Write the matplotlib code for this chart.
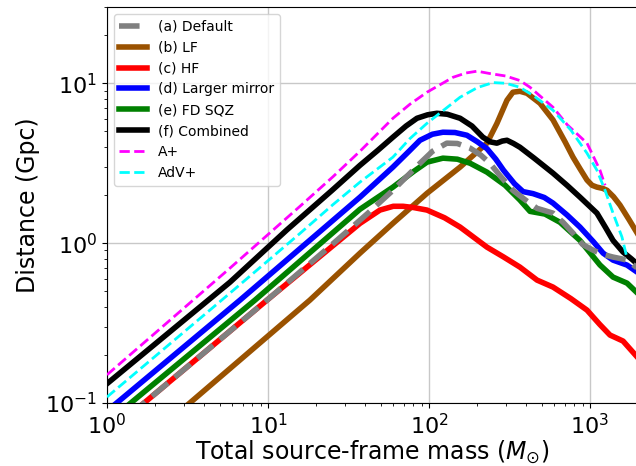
import numpy as np
import matplotlib
matplotlib.use('Agg')
import matplotlib.pyplot as plt

# values (total mass in Msun, distance in Gpc)
mass_default = [1, 9.86, 25, 41.2, 59.7, 87.9, 105, 129, 150, 180, 210, 239, 280, 332, 400, 469, 520,
                589, 680, 784, 900, 1044, 1200, 1390, 1550, 1698, 2000]
dist_default = [0.064, 0.44, 0.98, 1.52, 2.14, 3.16, 3.75, 4.22, 4.2, 3.93, 3.55, 3.16, 2.6, 2.14, 1.85, 1.65, 1.6,
                1.54, 1.35, 1.155, 0.98, 0.904, 0.85, 0.818, 0.80, 0.783, 0.69]

mass_lf = [1, 18.2, 37.3, 59.7, 97.2, 156, 229, 264, 305, 332, 367, 406, 489, 589, 700, 784, 870, 958,
           1030, 1104, 1200, 1276, 1400, 1535, 1750, 2000]
dist_lf = [0.036, 0.44, 0.866, 1.33, 2.05, 2.99, 4.22, 5.6, 7.83, 8.79, 8.91, 8.66, 7.5, 5.9, 4.3, 3.45, 2.9, 2.48,
           2.3, 2.24, 2.2, 2.14, 1.95, 1.73, 1.4, 1.12]

mass_hf = [1, 9.86, 37.3, 49.6, 60, 69.0, 80, 97.2, 125, 156, 229, 290, 367, 469, 589, 760, 958, 1150,
           1331, 1604, 2000]
dist_hf = [0.064, 0.44, 1.33, 1.61, 1.70, 1.70, 1.67, 1.61, 1.44, 1.26, 0.944, 0.82, 0.708, 0.587, 0.531, 0.45,
           0.381, 0.31, 0.266, 0.244, 0.19]

mass_mirror = [1, 6.70, 37.3, 59.7, 75, 87.9, 105, 122, 145, 172, 200, 229, 260, 290, 340, 384, 443, 520,
               589, 720, 866, 1050, 1205, 1390, 1698, 2000]
dist_mirror = [0.089, 0.44, 1.94, 2.99, 3.75, 4.40, 4.8, 4.94, 4.92, 4.73, 4.3, 3.9, 3.35, 2.86, 2.35, 2.1, 2.04,
               1.93, 1.78, 1.5, 1.26, 1.02, 0.866, 0.783, 0.729, 0.65]

mass_sqz = [1, 8.30, 37.3, 59.7, 80, 97.2, 122, 150, 180, 229, 297, 367, 424, 525, 651, 866, 1153, 1390,
            1698, 2000]
dist_sqz = [0.0753, 0.44, 1.63, 2.24, 2.8, 3.21, 3.40, 3.35, 3.16, 2.78, 2.30, 1.86, 1.58, 1.52, 1.35, 1.04, 0.73,
            0.613, 0.562, 0.48]

mass_comb = [1, 5.81, 13.1, 25, 37.3, 48, 59.7, 72, 84.2, 98, 112, 130, 156, 185, 216, 240, 264, 285, 305,
             335, 367, 450, 589, 720, 866, 1104, 1250, 1390, 1604, 1800, 2000]
dist_comb = [0.132, 0.57, 1.21, 2.14, 3.07, 3.8, 4.60, 5.4, 6.04, 6.35, 6.49, 6.4, 6.04, 5.4, 4.60, 4.3, 4.22,
             4.35, 4.40, 4.2, 3.98, 3.4, 2.74, 2.3, 1.94, 1.54, 1.25, 1.04, 0.879, 0.8, 0.73]

mass_aplus = [1, 5.81, 15.8, 25.3, 37.3, 59.7, 76.2, 97.2, 141, 170, 199, 239, 300, 367, 424, 589, 722, 958,
              1153, 1240]
dist_aplus = [0.150, 0.698, 1.70, 2.6, 3.76, 6.04, 7.4, 8.79, 10.9, 11.6, 11.9, 11.5, 11.1, 10.4, 9.44, 7.08,
              5.5, 4.22, 2.86, 2.30]

mass_advplus = [1, 5.81, 15.8, 25.3, 37.3, 59.7, 76, 97.2, 156, 200, 250, 300, 367, 450, 589, 760, 958, 1104,
                1240, 1390, 1580, 1698]
dist_advplus = [0.109, 0.487, 1.15, 1.74, 2.41, 3.45, 4.5, 5.62, 8.18, 9.4, 10.1, 10.0, 9.44, 8.3, 6.78, 5.1,
                3.65, 2.86, 2.14, 1.54, 1.09, 0.806]

fig = plt.figure(figsize=(6.36, 4.66), dpi=100)
ax = fig.add_axes([0.1682, 0.1352, 0.8357, 0.8498])

ax.plot(mass_default, dist_default, color='gray', ls='--', lw=4, label='(a) Default', zorder=3)
ax.plot(mass_lf, dist_lf, color='#9a5200', lw=4, label='(b) LF')
ax.plot(mass_hf, dist_hf, color='#ff0000', lw=4, label='(c) HF')
ax.plot(mass_mirror, dist_mirror, color='#0000ff', lw=4, label='(d) Larger mirror')
ax.plot(mass_sqz, dist_sqz, color='#008000', lw=4, label='(e) FD SQZ')
ax.plot(mass_comb, dist_comb, color='k', lw=4, label='(f) Combined')
ax.plot(mass_aplus, dist_aplus, color='#ff00ff', ls='--', lw=2, label='A+', zorder=4)
ax.plot(mass_advplus, dist_advplus, color='#00ffff', ls='--', lw=2, label='AdV+', zorder=4)

ax.set_xscale('log')
ax.set_yscale('log')
ax.set_xlim(1, 2000)
ax.set_ylim(0.1, 30)
ax.grid(True, which='major', color='#c8c8c8', lw=1)
ax.tick_params(labelsize=16)
ax.set_xlabel(r'Total source-frame mass ($M_{\odot}$)', fontsize=17, labelpad=0.5)
ax.set_ylabel('Distance (Gpc)', fontsize=17, labelpad=4)
ax.legend(loc='upper left', fontsize=10)

fig.savefig('out.png', dpi=100)
